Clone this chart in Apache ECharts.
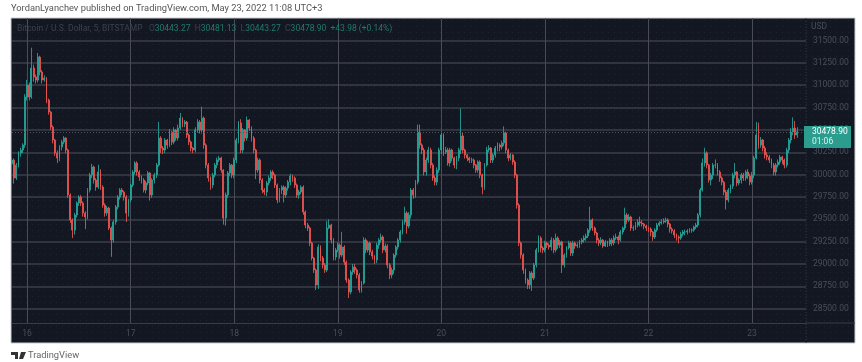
<!DOCTYPE html>
<html>
<head>
<meta charset="utf-8">
<title>BTC/USD</title>
<script src="https://cdn.jsdelivr.net/npm/echarts@6/dist/echarts.min.js"></script>
<style>
html, body { margin: 0; padding: 0; background: #fff; }
#main { width: 862px; height: 362px; }
</style>
</head>
<body>
<div id="main"></div>
<script>
// tick labels
var yTicks = [28500, 28750, 29000, 29250, 29500, 29750, 30000, 30250, 30500, 30750, 31000, 31250, 31500];
var dayIndex = [7, 55, 103, 151, 199, 247, 295, 343];
var dayLabels = ['16', '17', '18', '19', '20', '21', '22', '23'];
var lastPrice = 30478.90;

// half hour bars
var closes = [
	30163, 29962, 30107, 30242, 30275, 30331, 30868, 31002, 30868, 31192,
	31092, 31058, 31315, 31148, 31058, 31080, 30834, 30700, 30532, 30387,
	30242, 30186, 30309, 30365, 30409, 30275, 29772, 29492, 29380, 29548,
	29682, 29749, 29682, 29570, 29526, 29828, 29995, 30085, 29940, 29861,
	30029, 29861, 29660, 29570, 29626, 29403, 29268, 29470, 29637, 29749,
	29828, 29805, 29749, 29570, 29716, 29884, 30029, 30130, 30029, 29973,
	29940, 29828, 29906, 30018, 29772, 29940, 29995, 30107, 30409, 30297,
	30275, 30387, 30331, 30476, 30365, 30499, 30409, 30521, 30633, 30566,
	30588, 30443, 30365, 30297, 30275, 30499, 30588, 30499, 30633, 30331,
	30107, 29962, 29884, 29995, 30107, 30163, 30186, 30051, 29514, 29772,
	30018, 30107, 29995, 30163, 30387, 30577, 30275, 30499, 30409, 30611,
	30521, 30409, 30275, 30051, 30163, 29940, 29828, 29805, 29906, 29962,
	30029, 29995, 29884, 29716, 29828, 29861, 29772, 29850, 29917, 29984,
	29962, 29884, 29772, 29805, 29861, 29582, 29436, 29403, 29235, 29067,
	28933, 28765, 29190, 29067, 28989, 28933, 29403, 29436, 29268, 29078,
	29157, 29212, 29101, 29190, 29022, 28821, 28687, 28910, 28966, 28933,
	28877, 28709, 28787, 29268, 29157, 29235, 29134, 29089, 29045, 29212,
	29268, 29302, 29157, 29201, 28989, 28877, 28933, 29101, 29190, 29268,
	29358, 29470, 29570, 29425, 29548, 29828, 29772, 29917, 30476, 30331,
	30275, 30029, 30163, 30275, 30107, 29962, 29917, 30051, 30275, 30443,
	30253, 30275, 30130, 30275, 30186, 30107, 30186, 30275, 30432, 30275,
	30219, 30186, 30163, 30163, 30107, 30051, 30141, 29995, 29861, 30107,
	30275, 30297, 30163, 30219, 30297, 30331, 30309, 30353, 30465, 30275,
	30186, 30219, 30141, 29995, 29660, 29235, 29101, 28933, 28821, 28765,
	28899, 28843, 28989, 29157, 29291, 29179, 29157, 29235, 29212, 29190,
	29268, 29157, 29291, 29212, 29246, 28989, 29101, 29179, 29235, 29123,
	29235, 29201, 29212, 29246, 29268, 29291, 29313, 29380, 29492, 29403,
	29347, 29268, 29235, 29268, 29201, 29246, 29224, 29268, 29235, 29291,
	29302, 29268, 29358, 29403, 29548, 29492, 29526, 29403, 29403, 29436,
	29470, 29459, 29447, 29425, 29403, 29391, 29358, 29302, 29380, 29436,
	29459, 29470, 29481, 29492, 29447, 29391, 29369, 29324, 29302, 29291,
	29335, 29358, 29358, 29369, 29380, 29380, 29414, 29436, 29548, 29828,
	30130, 30242, 30107, 29940, 29995, 30107, 30107, 30029, 29962, 29917,
	29805, 29716, 29828, 29872, 29995, 30029, 29906, 29940, 29995, 29962,
	30029, 29984, 29917, 29995, 30186, 30443, 30331, 30387, 30297, 30219,
	30197, 30163, 30107, 30029, 30107, 30141, 30197, 30163, 30107, 30275,
	30387, 30476, 30521, 30443, 30478.90
];
var highs = [
	30190, 30180, 30130, 30260, 30300, 30350, 30900, 31060, 31030, 31420,
	31230, 31120, 31360, 31330, 31170, 31110, 31090, 30850, 30710, 30550,
	30400, 30270, 30330, 30390, 30430, 30420, 30290, 29790, 29510, 29570,
	29700, 29770, 29770, 29700, 29590, 29850, 30020, 30120, 30100, 29960,
	30110, 30060, 29880, 29680, 29650, 29640, 29420, 29490, 29660, 29770,
	29850, 29850, 29820, 29770, 29730, 29900, 30050, 30150, 30150, 30050,
	29990, 29960, 29930, 30040, 30030, 29960, 30020, 30130, 30590, 30430,
	30320, 30410, 30400, 30510, 30490, 30530, 30510, 30560, 30690, 30640,
	30610, 30600, 30460, 30380, 30310, 30530, 30620, 30610, 30760, 30650,
	30350, 30130, 29980, 30020, 30130, 30190, 30210, 30200, 30060, 29800,
	30040, 30130, 30120, 30190, 30410, 30600, 30620, 30520, 30510, 30650,
	30620, 30540, 30430, 30290, 30190, 30180, 29960, 29850, 29930, 29990,
	30050, 30050, 30010, 29900, 29850, 29880, 29880, 29870, 29940, 30010,
	30000, 29980, 29900, 29830, 29880, 29880, 29600, 29460, 29420, 29250,
	29080, 28950, 29220, 29210, 29090, 29010, 29480, 29500, 29450, 29290,
	29180, 29240, 29230, 29360, 29210, 29040, 28840, 28930, 29000, 29000,
	28950, 28900, 28810, 29300, 29290, 29260, 29250, 29160, 29100, 29240,
	29290, 29340, 29320, 29230, 29220, 29010, 28960, 29120, 29210, 29290,
	29380, 29490, 29640, 29590, 29580, 29850, 29850, 29940, 30560, 30560,
	30350, 30300, 30190, 30310, 30300, 30130, 29990, 30080, 30300, 30480,
	30460, 30310, 30300, 30300, 30290, 30200, 30210, 30300, 30740, 30470,
	30290, 30230, 30200, 30190, 30180, 30120, 30160, 30160, 30010, 30130,
	30310, 30330, 30310, 30240, 30320, 30360, 30350, 30380, 30540, 30480,
	30290, 30240, 30230, 30160, 30010, 29680, 29250, 29120, 28950, 28840,
	28920, 28920, 29010, 29180, 29320, 29310, 29200, 29260, 29250, 29230,
	29300, 29290, 29340, 29310, 29270, 29260, 29120, 29200, 29260, 29250,
	29260, 29250, 29240, 29270, 29290, 29320, 29340, 29400, 29640, 29510,
	29420, 29360, 29290, 29300, 29280, 29270, 29260, 29290, 29290, 29320,
	29340, 29320, 29380, 29420, 29630, 29570, 29560, 29540, 29430, 29470,
	29500, 29530, 29490, 29460, 29440, 29420, 29410, 29370, 29400, 29460,
	29480, 29500, 29510, 29520, 29510, 29460, 29410, 29390, 29340, 29320,
	29360, 29380, 29385, 29390, 29400, 29400, 29430, 29460, 29570, 29850,
	30180, 30300, 30260, 30120, 30020, 30130, 30170, 30130, 30050, 29980,
	29930, 29830, 29850, 29890, 30020, 30130, 30040, 29960, 30020, 30020,
	30050, 30060, 30010, 30030, 30210, 30590, 30580, 30420, 30400, 30320,
	30250, 30220, 30180, 30130, 30130, 30170, 30220, 30210, 30180, 30300,
	30410, 30520, 30640, 30600, 30530
];
var lows = [
	30100, 29900, 29940, 30080, 30200, 30240, 30300, 30830, 30830, 30850,
	31040, 31020, 31030, 31110, 31020, 31040, 30800, 30670, 30500, 30350,
	30210, 30130, 30150, 30270, 30340, 30240, 29740, 29460, 29290, 29330,
	29520, 29650, 29650, 29530, 29390, 29500, 29800, 29960, 29900, 29820,
	29840, 29830, 29630, 29530, 29540, 29380, 29080, 29240, 29440, 29610,
	29720, 29770, 29710, 29470, 29530, 29690, 29860, 30000, 29990, 29930,
	29900, 29800, 29790, 29880, 29710, 29740, 29900, 29960, 30090, 30240,
	30230, 30240, 30290, 30310, 30330, 30340, 30380, 30380, 30500, 30530,
	30530, 30410, 30330, 30260, 30240, 30250, 30470, 30460, 30460, 30290,
	30070, 29920, 29830, 29850, 29970, 30070, 30140, 30020, 29440, 29430,
	29740, 29980, 29960, 29960, 30130, 30350, 30240, 30240, 30370, 30380,
	30490, 30370, 30240, 29950, 30020, 29900, 29790, 29770, 29760, 29880,
	29930, 29950, 29850, 29680, 29690, 29780, 29690, 29740, 29820, 29880,
	29920, 29850, 29740, 29730, 29780, 29550, 29400, 29370, 29200, 29040,
	28900, 28710, 28720, 29030, 28950, 28900, 28910, 29390, 29230, 29040,
	29040, 29130, 29060, 29080, 28990, 28790, 28620, 28660, 28880, 28890,
	28840, 28680, 28680, 28770, 29120, 29130, 29100, 29050, 29000, 29010,
	29170, 29240, 29120, 29130, 28950, 28830, 28840, 28890, 29070, 29160,
	29240, 29330, 29440, 29340, 29400, 29510, 29730, 29740, 29890, 30290,
	30230, 29990, 29990, 30130, 30070, 29930, 29880, 29880, 30020, 30230,
	30210, 30230, 30100, 30090, 30150, 30070, 30060, 30150, 30230, 30240,
	30180, 30150, 30130, 30130, 30070, 30020, 30020, 29960, 29780, 29830,
	30090, 30250, 30130, 30130, 30190, 30260, 30260, 30280, 30320, 30240,
	30150, 30160, 30110, 29960, 29620, 29200, 29060, 28890, 28780, 28720,
	28720, 28700, 28820, 28960, 29130, 29130, 29120, 29130, 29180, 29160,
	29150, 29120, 29130, 29170, 29180, 28900, 28960, 29070, 29160, 29090,
	29090, 29170, 29180, 29180, 29220, 29240, 29260, 29290, 29350, 29370,
	29320, 29230, 29200, 29210, 29180, 29190, 29190, 29200, 29200, 29210,
	29270, 29220, 29250, 29330, 29380, 29450, 29470, 29370, 29370, 29380,
	29410, 29420, 29420, 29390, 29370, 29360, 29310, 29260, 29280, 29360,
	29420, 29440, 29450, 29460, 29410, 29350, 29340, 29290, 29260, 29230,
	29270, 29310, 29320, 29330, 29350, 29350, 29360, 29390, 29410, 29520,
	29810, 30090, 30070, 29910, 29880, 29950, 30070, 29990, 29920, 29880,
	29770, 29610, 29690, 29790, 29840, 29960, 29870, 29880, 29900, 29930,
	29930, 29950, 29880, 29890, 29960, 30170, 30290, 30300, 30260, 30180,
	30160, 30130, 30070, 29990, 29990, 30080, 30110, 30120, 30070, 30080,
	30240, 30350, 30440, 30400, 30410
];

// every bar opens where the one before it closed
var candles = [];
for (var i = 0; i < closes.length; i++) {
	candles.push([i ? closes[i - 1] : 30120, closes[i], lows[i], highs[i]]);
}

// one slot per half hour, the last few stay empty right of the last bar
var categories = [];
for (var k = 0; k < 369; k++) {
	categories.push(String(k));
}

function isDay(index) {
	return dayIndex.indexOf(index) > -1;
}

// dots of the tradingview background
var dots = document.createElement('canvas');
dots.width = 6;
dots.height = 6;
var ctx = dots.getContext('2d');
ctx.fillStyle = '#131722';
ctx.fillRect(0, 0, 6, 6);
ctx.fillStyle = '#1f2430';
ctx.fillRect(2, 2, 1, 1);

var font = 'Roboto, sans-serif';
var dim = '#4a4e59';

var myChart = echarts.init(document.getElementById('main'));

var option = {
	animation: false,
	backgroundColor: '#ffffff',
	grid: { left: 12, top: 18, width: 794, height: 305 },
	xAxis: {
		type: 'category',
		data: categories,
		boundaryGap: false,
		axisLine: { show: true, lineStyle: { color: '#3a3d47', width: 1 } },
		axisTick: { show: false },
		axisLabel: {
			interval: function(index) { return isDay(index); },
			formatter: function(value, index) { return dayLabels[dayIndex.indexOf(index)]; },
			color: dim,
			fontSize: 8.5,
			fontFamily: font,
			margin: 6
		},
		splitLine: {
			show: true,
			interval: function(index) { return isDay(index); },
			lineStyle: { color: '#4a4c55', width: 1 }
		}
	},
	yAxis: {
		type: 'value',
		position: 'right',
		min: 28340,
		max: 31752,
		axisLine: { show: false },
		axisTick: { show: false, customValues: yTicks },
		axisLabel: {
			customValues: yTicks,
			formatter: function(v) { return v.toFixed(2); },
			color: dim,
			fontSize: 8.5,
			fontFamily: font,
			margin: 7
		},
		splitLine: { show: true, lineStyle: { color: '#3c3f4a', width: 1.5 } }
	},
	series: [{
		type: 'candlestick',
		data: candles,
		barWidth: 1.4,
		itemStyle: {
			color: '#26a69a',
			color0: '#ef5350',
			borderColor: '#26a69a',
			borderColor0: '#ef5350',
			borderWidth: 1,
			opacity: 0.85
		},
		markLine: {
			silent: true,
			symbol: 'none',
			label: { show: false },
			lineStyle: { color: '#4d5560', type: [1, 2], width: 1 },
			data: [{ yAxis: lastPrice }]
		}
	}],
	graphic: [
		// dark panel behind the grid
		{ type: 'rect', z: -10, shape: { x: 11, y: 18, width: 844, height: 325 },
			style: { fill: { image: dots, repeat: 'repeat' }, stroke: '#c9ccd1', lineWidth: 1 } },
		{ type: 'line', z: 1, shape: { x1: 806, y1: 18, x2: 806, y2: 343 },
			style: { stroke: '#333742', lineWidth: 1, lineDash: [1, 2] } },
		{ type: 'line', z: 1, shape: { x1: 806, y1: 323, x2: 855, y2: 323 },
			style: { stroke: '#3a3d47', lineWidth: 1 } },
		{ type: 'text', x: 11, y: 4, style: {
			text: 'YordanLyanchev published on TradingView.com, May 23, 2022 11:08 UTC+3',
			fill: '#555555', font: '9.3px ' + font } },
		{ type: 'text', x: 17, y: 24, z: 5, style: {
			text: '{a|Bitcoin / U.S. Dollar, 5, BITSTAMP   O}{b|30443.27}{a|  H}{b|30481.13}{a|  L}{b|30443.27}{a|  C}{b|30478.90}{b|  +43.98 (+0.14%)}',
			rich: {
				a: { fill: '#3d414c', font: '8.5px ' + font },
				b: { fill: '#1f7a70', font: '8.5px ' + font }
			} } },
		{ type: 'text', x: 811, y: 22, z: 5, style: { text: 'USD', fill: dim, font: '8.5px ' + font } },
		// last price tag
		{ type: 'rect', z: 6, shape: { x: 804, y: 126, width: 47, height: 22 }, style: { fill: '#2a9d8f' } },
		{ type: 'text', x: 812, y: 127, z: 7, style: { text: '30478.90', fill: '#ffffff', font: '8.5px ' + font } },
		{ type: 'text', x: 812, y: 137, z: 7, style: { text: '01:06', fill: '#dff2ef', font: '8.5px ' + font } },
		// logo and name at the bottom
		{ type: 'polygon', shape: { points: [[11, 352], [18, 352], [18, 359], [15, 359], [15, 355], [11, 355]] }, style: { fill: '#333333' } },
		{ type: 'polygon', shape: { points: [[21, 352], [26, 352], [23, 359], [19, 359]] }, style: { fill: '#333333' } },
		{ type: 'text', x: 28, y: 351, style: { text: 'TradingView', fill: '#666666', font: '9.3px ' + font } }
	]
};
myChart.setOption(option);
</script>
</body>
</html>
